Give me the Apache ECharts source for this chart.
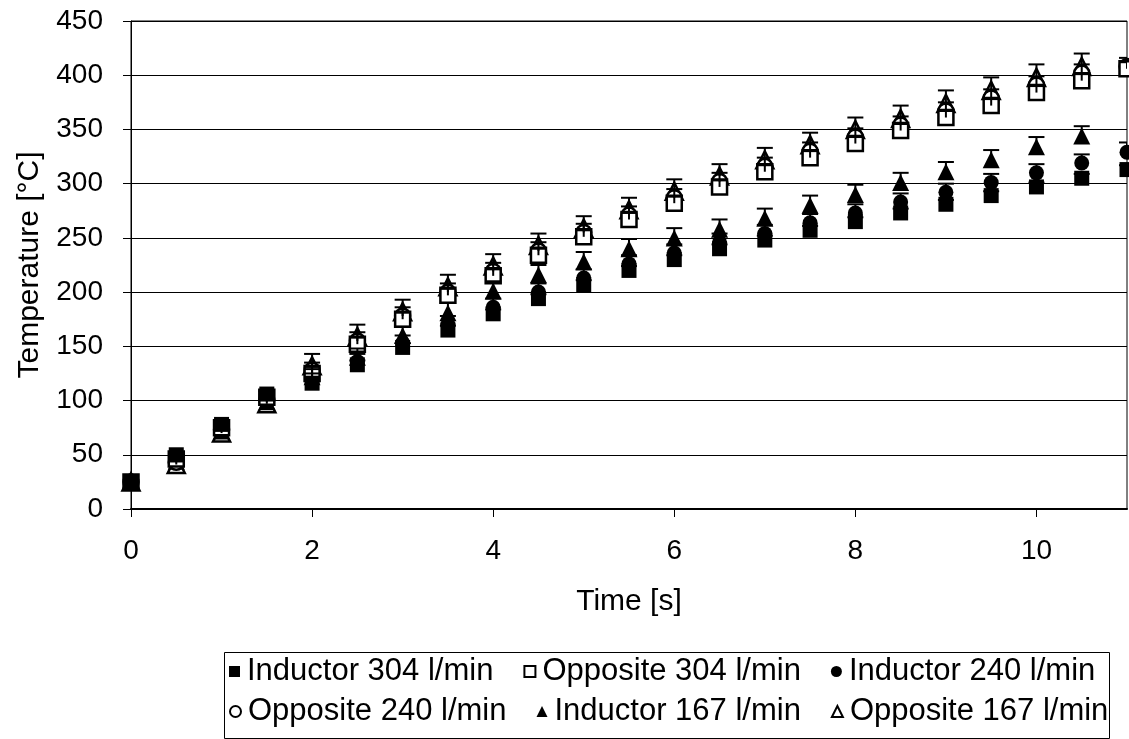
<!DOCTYPE html>
<html><head><meta charset="utf-8">
<script src="https://cdn.jsdelivr.net/npm/echarts@6/dist/echarts.min.js"></script>
<style>html,body{margin:0;padding:0;background:#fff}#c{width:1129px;height:739px}</style>
</head><body><div id="c"></div>
<script>
const time = [0,0.5,1,1.5,2,2.5,3,3.5,4,4.5,5,5.5,6,6.5,7,7.5,8,8.5,9,9.5,10,10.5,11];
const inductor304 = [25,50,78,106,116,133,149,165,180,194,207,220,230,240,248,257,265,273,281,289,297,305,313];
const opposite304 = [25,46,75,103,125,152,175,197,215,234,251,267,282,297,311,324,337,349,361,372,384,395,406];
const inductor240 = [25,47,76,104,119,136,153,170,186,200,213,226,236,246,254,264,273,283,292,301,310,319,329];
const opposite240 = [25,43,73,101,128,155,178,200,219,238,255,271,287,302,316,330,343,354,367,379,391,402,408];
const inductor167 = [25,44,72,99,122,140,160,181,201,216,228,240,250,258,268,280,290,301,311,322,334,344];
const opposite167 = [25,41,70,97,132,159,182,205,224,243,259,276,293,307,322,336,350,360,374,386,398,408];
// upper error bar lengths (plus direction only)
const errInductor304 = [0,2,3,3,4,4,4,4,4,4,4,4,4,4,4,4,4,4,4,4,4,4,4];
const errOpposite304 = [0,3,4,5,6,6,6,6,6,6,6,6,6,6,6,6,6,6,6,6,6,6,6];
const errInductor240 = [0,3,4,5,6,7,7,8,8,8,8,8,8,8,8,8,8,8,8,8,8,8,9];
const errOpposite240 = [0,3,4,5,7,8,8,8,8,8,8,8,8,8,8,8,8,8,8,8,8,8,8];
const errInductor167 = [0,3,4,5,7,8,8,9,9,9,9,9,9,9,9,9,9,9,9,9,9,9];
const errOpposite167 = [0,3,5,8,11,11,11,11,11,11,11,11,11,11,11,11,11,12,12,12,12,12];
const names = ['Inductor 304 l/min','Opposite 304 l/min','Inductor 240 l/min','Opposite 240 l/min','Inductor 167 l/min','Opposite 167 l/min'];
const xTicks = [0,2,4,6,8,10];
const yTicks = [0,50,100,150,200,250,300,350,400,450];

const allVals = [inductor304, opposite304, inductor240, opposite240, inductor167, opposite167];
const allErr = [errInductor304, errOpposite304, errInductor240, errOpposite240, errInductor167, errOpposite167];
const symbols = ['rect','rect','circle','circle','triangle','triangle'];
const hollow = [false,true,false,true,false,true];
const sizes = [15,15,15,15,17,17];
const FONT = 'Liberation Sans, Arial, sans-serif';

const series = [];
allVals.forEach((vals, k) => {
  series.push({
    type: 'scatter', name: names[k], z: 3 + (5 - k),
    symbol: symbols[k], symbolSize: sizes[k],
    data: vals.map((v, i) => [time[i], v]),
    itemStyle: hollow[k] ? {color: '#fff', borderColor: '#000', borderWidth: 2.5, opacity: 1} : {color: '#000', borderColor: '#000', borderWidth: 0, opacity: 1},
    emphasis: {disabled: true}
  });
});
allVals.forEach((vals, k) => {
  const err = allErr[k];
  series.push({
    type: 'custom', name: names[k] + ' err', z: 20,
    data: vals.map((v, i) => [time[i], v, v + err[i]]),
    encode: {x: 0, y: [1, 2]},
    clip: true,
    renderItem: (params, api) => {
      const x = api.value(0);
      const lo = api.coord([x, api.value(1)]);
      const hi = api.coord([x, api.value(2)]);
      if (api.value(2) - api.value(1) <= 0) return null;
      const hw = 8;
      const st = {stroke: '#000', lineWidth: 2};
      return {type: 'group', children: [
        {type: 'line', shape: {x1: lo[0], y1: lo[1], x2: hi[0], y2: hi[1]}, style: st},
        {type: 'line', shape: {x1: hi[0]-hw, y1: hi[1], x2: hi[0]+hw, y2: hi[1]}, style: st}
      ]};
    }
  });
});

const legendCommon = {
  orient: 'horizontal', padding: 0,
  itemWidth: 11, itemHeight: 11, itemGap: 30,
  textStyle: {fontSize: 31, color: '#000', fontFamily: FONT, padding: [0, 0, 0, 2]},
  selectedMode: false
};

const chart = echarts.init(document.getElementById('c'), null, {renderer: 'canvas'});
chart.setOption({
  animation: false,
  backgroundColor: '#fff',
  textStyle: {fontFamily: FONT},
  grid: {left: 131, right: 2, top: 21, bottom: 230, show: true, borderColor: '#000', borderWidth: 1, containLabel: false},
  xAxis: {
    type: 'value', min: xTicks[0], max: 11, interval: 2,
    name: 'Time [s]', nameLocation: 'middle', nameGap: 78,
    nameTextStyle: {fontSize: 30, color: '#000', fontFamily: FONT},
    axisLine: {show: true, lineStyle: {color: '#000', width: 2}},
    axisTick: {show: true, length: 8, lineStyle: {color: '#000'}},
    axisLabel: {fontSize: 28, color: '#000', margin: 28, fontFamily: FONT, showMaxLabel: false},
    splitLine: {show: false}
  },
  yAxis: {
    type: 'value', min: yTicks[0], max: yTicks[yTicks.length-1], interval: 50,
    name: 'Temperature [°C]', nameLocation: 'middle', nameGap: 86,
    nameTextStyle: {fontSize: 30, color: '#000', fontFamily: FONT},
    axisLine: {show: true, lineStyle: {color: '#000', width: 1}},
    axisTick: {show: true, length: 8, lineStyle: {color: '#000'}},
    axisLabel: {fontSize: 28, color: '#000', margin: 28, fontFamily: FONT},
    splitLine: {show: true, lineStyle: {color: '#000', width: 1}}
  },
  legend: [
    Object.assign({}, legendCommon, {data: names.slice(0, 3), left: 229, top: 656}),
    Object.assign({}, legendCommon, {data: names.slice(3, 6), left: 229, top: 696})
  ],
  graphic: [{
    type: 'rect', left: 222, top: 650, z: 10,
    shape: {width: 885, height: 86},
    style: {fill: 'none', stroke: '#000', lineWidth: 1}
  }],
  series: series
});
</script>
</body></html>
